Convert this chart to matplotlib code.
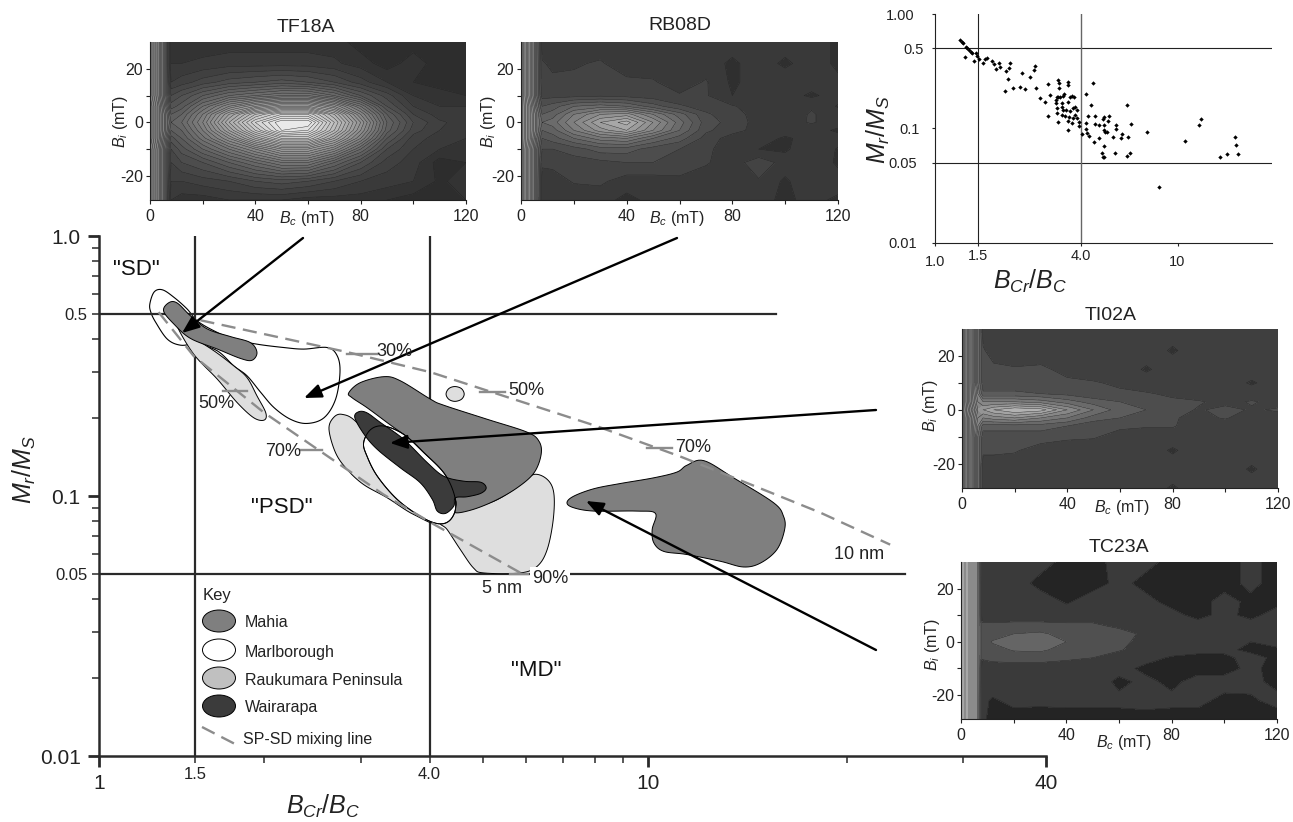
import numpy as np
import matplotlib
matplotlib.use('Agg')
import matplotlib.pyplot as plt
from matplotlib.colors import LinearSegmentedColormap
from matplotlib.patches import Ellipse

plt.rcParams['font.family'] = ['Liberation Sans', 'DejaVu Sans']
plt.rcParams['mathtext.fontset'] = 'custom'
plt.rcParams['mathtext.rm'] = 'Liberation Sans'
plt.rcParams['mathtext.it'] = 'Liberation Sans:italic'
plt.rcParams['mathtext.default'] = 'it'

W, H = 1293, 822

# FORC grids, contour level number at each (Bi, Bc)
forc_bc = [0, 3, 6, 8, 12, 20, 30, 40, 50, 60, 70, 80, 90, 100, 110, 120]
forc_bi = [30, 22, 15, 10, 6, 3, 0, -3, -6, -10, -15, -22, -29]

tf18a = [
    [20, 16, 10, 2, 1.5, 1.5, 1.5, 1.5, 1.5, 1.5, 1.5, .5, .5, .5, .4, .5],
    [20, 16, 10, 2, 2, 2.2, 2.5, 2.5, 2.5, 2.5, 2.2, 1.5, .5, 1.5, .5, .3],
    [20, 16, 10, 3, 3.5, 4.5, 5.5, 6, 6.5, 6, 5, 3.5, 2, 1, .5, .4],
    [20, 16, 10, 5, 6, 8, 10, 11, 12, 12, 10, 7, 4.5, 2, 1.5, 1],
    [21, 17, 11, 6.5, 7.5, 11, 15, 18, 20, 20, 17, 12, 6, 3, 2, 2],
    [21, 17, 12, 8, 9, 13, 19, 24, 27, 27, 22, 15, 8, 4, 2.5, 2.5],
    [21, 17, 12, 9, 10, 14, 21, 27, 31, 31, 24, 17, 9, 5, 3.2, 2.5],
    [21, 17, 12, 8, 9, 13, 19, 25, 30, 29, 23, 16, 8.5, 4.5, 3, 2],
    [21, 17, 11, 6.5, 8, 11.5, 16, 21, 25, 25, 20, 14, 7, 3.5, 2.5, 2],
    [20, 16, 10, 5, 6.5, 9, 12, 15, 18, 18, 15, 10, 5, 3, 2, 2],
    [20, 16, 10, 4, 5, 6, 8, 10, 12, 12, 9, 6, 3.5, 2.5, .5, 1],
    [20, 16, 10, 3, 3, 3.5, 4, 5, 5.5, 5, 4, 3, 2.5, 2, .8, 1.5],
    [20, 16, 10, 2, 1.5, 1.5, 2, 2, 2, 1.5, 1.5, 1.5, 1, .5, .5, 1],
]
rb08d = [
    [18, 12, 6, 1.5, 1.5, 1.5, 1.5, 1.5, 1.5, 1.5, 1.5, 1.5, 1.9, 1.5, 1.5, .8],
    [18, 12, 6, 2.1, 1.8, 1.9, 2.1, 1.5, 1.5, 1.5, 1.5, .8, 1.5, .8, 1.5, .8],
    [18, 12, 6, 2.2, 2.2, 2.2, 2.3, 2.2, 2.1, 1.5, 2.1, .8, 1.5, 1.6, 1.5, 1.2],
    [18, 12, 6, 2.6, 2.6, 2.6, 2.8, 2.6, 2.4, 2.1, 2.1, 1.0, 1.5, 1.5, .8, 1.5],
    [18, 13, 7, 4, 4.5, 6, 6.5, 6, 4.5, 3.2, 2.5, 2.1, 1.5, 1.5, 1.9, .9],
    [18, 13, 8, 5, 5.5, 8, 10, 10.5, 8, 5.5, 3.2, 2.3, 1.7, 1.5, 2.1, 1.5],
    [18, 13, 8, 6, 6.5, 9, 12, 13.5, 10, 6.5, 3.5, 2.6, 1.6, 1.6, 2.1, 1.5],
    [18, 13, 8, 5, 5.5, 8, 10.5, 12, 9, 6, 3.2, 2.4, 1.6, 1.6, 1.5, .8],
    [18, 13, 7, 4, 4.5, 6, 7.5, 8, 6, 4.5, 2.6, 1.5, 1.6, .8, 1.5, 1.5],
    [18, 12, 6, 3, 3, 3.5, 4.5, 4.5, 3.5, 3, 2.2, 1.5, 1.0, .8, 1.9, .9],
    [18, 12, 6, 2.2, 2.3, 2.5, 2.7, 3, 3, 2.5, 2.1, 1.5, 2.6, 1.6, 1.9, .8],
    [18, 12, 6, 1.5, 1.5, 2.1, 2.2, 1.5, 1.5, 1.8, 1.5, 1.5, 1.9, .8, 1.9, 1.5],
    [18, 12, 6, 1.4, 1.3, 1.3, 1.4, .7, 1.3, 1.2, 1.3, 1.5, 1.3, .8, 1.3, .8],
]
ti02a = [
    [18, 12, 5, 1.6, 1.4, 1.4, 1.4, 1.4, 1.4, 1.4, 1.4, 1.4, 1.4, 1.4, 1.4, 1.4],
    [18, 12, 5, 2.1, 1.6, 1.4, 1.4, 1.4, 1.4, 1.4, 1.4, .9, 1.4, 1.4, 1.4, 1.4],
    [18, 12, 5, 2.2, 2.2, 2.1, 2.2, 1.7, 1.4, 1.4, .9, 1.4, 1.4, 1.4, 1.4, 1.4],
    [18, 12, 5, 2.4, 2.4, 2.4, 2.3, 2.2, 2.1, 1.8, 1.4, 1.4, 1.4, 1.4, .9, 1.4],
    [18, 12, 6, 3.2, 3.2, 3.2, 3, 2.7, 2.3, 2.2, 2.1, 1.8, 1.4, 1.5, 1.4, 1.4],
    [18, 12, 7, 6, 6, 6, 5.5, 4.5, 3.5, 3, 2.6, 2.2, 2.1, 1.7, 2.1, 1.7],
    [18, 13, 8, 8, 9, 10, 9.5, 7, 5, 3.5, 3, 2.4, 1.9, 2.3, 1.9, 2.1],
    [18, 12, 7, 6, 6.5, 7, 6, 5, 3.5, 3, 2.3, 2.1, 1.7, 2.1, 1.4, 1.7],
    [18, 12, 6, 3.5, 3.5, 3.5, 3.5, 3, 2.3, 2.2, 2.1, 2.1, 1.4, 1.4, 1.4, 1.4],
    [18, 12, 5, 2.4, 2.4, 2.4, 2.4, 2.2, 2.1, 1.6, 1.4, 1.4, 1.4, 1.4, 1.4, 1.4],
    [18, 12, 5, 2.2, 2.2, 2.1, 1.6, 1.4, 1.4, 1.4, 1.4, .9, 1.4, 1.4, 1.4, 1.4],
    [18, 12, 5, 1.4, 1.4, 1.4, 1.4, 1.4, 1.4, 1.4, 1.4, 1.4, 1.4, 1.4, .9, 1.4],
    [18, 12, 5, 1.4, 1.4, 1.4, 1.4, 1.4, 1.4, 1.4, 1.4, .9, 1.4, 1.4, 1.4, 1.4],
]
tc23a = [
    [14, 12, 8, 1.2, 1.1, 1.5, 1.4, .7, .7, 1.3, 1.2, .8, .7, .7, 1.2, .7],
    [14, 12, 8, 1.5, 1.5, 1.5, .7, .8, .7, 1.2, .8, .8, .7, .7, 1.2, .7],
    [14, 12, 8, 1.5, 1.5, 1.5, 1.5, .9, 1.4, 1.3, 1.2, .8, .7, 1.3, .8, .8],
    [14, 12, 8, 1.6, 1.5, 1.5, 1.5, 1.5, 1.5, 1.3, 1.2, 1.2, .8, 1.2, .8, 1.3],
    [14, 12, 8, 2.2, 2.2, 2.3, 2.3, 2.2, 2.2, 1.8, 1.5, 1.5, 1.3, 1.3, 1.3, 1.6],
    [14, 12, 8, 2.4, 2.5, 3, 3.2, 2.6, 2.5, 2.4, 1.8, 1.5, 1.3, 1.4, 1.3, 2],
    [14, 12, 8, 2.4, 3.1, 3.8, 3.8, 3, 2.6, 2.4, 1.5, 1.9, 1.5, 1.3, 1, 1.2],
    [14, 12, 8, 2.4, 2.6, 3.1, 3.2, 2.6, 2.4, 2.1, 1.5, 1.4, 1.3, 1.2, .8, .9],
    [14, 12, 8, 2.1, 2.3, 2.4, 2.4, 2.2, 2, 1.5, 1.3, .9, .7, .8, 1.3, .8],
    [14, 12, 8, 1.5, 1.5, 1.5, 1.5, 1.4, 1.4, 1.3, .8, .9, .7, .7, 1.2, .7],
    [14, 12, 8, 1.5, 1.5, 1.5, 1.5, 1.5, 1.5, .8, 1.2, .8, 1.3, 1.3, 1.2, .8],
    [14, 12, 8, 1.2, .9, 1.2, 1.2, 1.2, 1.2, 1.2, 1.3, 1.2, 1.2, .8, .9, 1.2],
    [14, 12, 8, 1.2, .7, .7, .6, .7, .7, .7, .7, .7, .7, .6, .7, .7],
]

# scatter in the small plot, log10 of Bcr/Bc and of Mr/Ms
scatter_logx = [
    .103, .110, .117, .128, .133, .142, .147, .151, .169, .175, .124, .161, .183, .199, .208, .213,
    .235, .243, .250, .265, .267, .293, .305, .309, .302, .289, .323, .349, .370, .360, .390, .408,
    .414, .415, .432, .455, .466, .476, .466, .499, .502, .509, .498, .502, .502, .507, .509, .510,
    .510, .550, .547, .515, .526, .532, .557, .564, .573, .550, .522, .522, .529, .540, .557, .568,
    .577, .584, .522, .536, .551, .550, .564, .568, .577, .587, .592, .594, .605, .547, .624, .652,
    .642, .632, .621, .621, .625, .636, .656, .661, .660, .678, .678, .697, .694, .697, .697, .701,
    .711, .718, .712, .746, .746, .734, .766, .773, .796, .792, .808, .874, .698, .690, .691, .697,
    .742, .793, .806, .922, 1.031, 1.089, 1.096, 1.175, 1.204, 1.251, 1.243, 1.237,
]
scatter_logy = [
    -.227, -.242, -.256, -.285, -.300, -.314, -.329, -.343, -.338, -.367, -.373, -.413, -.396, -.431, -.396, -.387,
    -.408, -.437, -.478, -.431, -.460, -.495, -.474, -.431, -.565, -.670, -.646, -.640, -.652, -.518, -.553, -.489,
    -.451, -.643, -.734, -.771, -.611, -.707, -.888, -.751, -.722, -.722, -.780, -.824, -.867, -.940, -.576, -.605,
    -.646, -.591, -.620, -.722, -.716, -.702, -.728, -.716, -.722, -.766, -.780, -.809, -.838, -.838, -.844, -.824,
    -.809, -.838, -.882, -.891, -.897, -.932, -.949, -.911, -.882, -.911, -.940, -.978, -1.048, -1.010, -.696, -.605,
    -.792, -.894, -.955, -1.001, -1.036, -1.065, -1.115, -.894, -.961, -.969, -1.083, -.897, -.920, -.969, -1.013, -1.028,
    -1.028, -.894, -.937, -.972, -1.004, -1.077, -1.083, -1.051, -1.071, -.798, -.958, -1.033, -1.153, -1.217, -1.246, -1.252,
    -1.217, -1.237, -1.217, -1.514, -1.112, -.969, -.914, -1.249, -1.226, -1.226, -1.144, -1.077,
]

# region outlines on the main plot, in axis decades (x, y)
marlborough_a = [(.093, -.262), (.101, -.215), (.116, -.207), (.137, -.236), (.161, -.281), (.179, -.326),
                 (.210, -.365), (.246, -.397), (.288, -.416), (.337, -.429), (.373, -.435), (.416, -.429),
                 (.434, -.461), (.439, -.525), (.431, -.628), (.410, -.699), (.379, -.721), (.349, -.705),
                 (.319, -.660), (.295, -.602), (.270, -.538), (.246, -.500), (.216, -.442), (.179, -.416),
                 (.149, -.420), (.125, -.397), (.104, -.333), (.095, -.294)]
marlborough_b = [(.482, -.795), (.495, -.744), (.519, -.731), (.555, -.763), (.592, -.834), (.628, -.911),
                 (.646, -.988), (.649, -1.052), (.637, -1.097), (.616, -1.106), (.585, -1.078), (.543, -1.013),
                 (.507, -.924), (.488, -.846)]
raukumara_a = [(.143, -.346), (.167, -.384), (.210, -.442), (.246, -.500), (.270, -.545), (.288, -.615),
               (.304, -.680), (.301, -.708), (.282, -.699), (.252, -.641), (.216, -.551), (.173, -.455)]
raukumara_b = [(.419, -.744), (.427, -.699), (.443, -.686), (.470, -.718), (.525, -.859), (.610, -1.091),
               (.573, -1.071), (.525, -1.007), (.482, -.956), (.452, -.898), (.431, -.834)]
raukumara_c = [(.792, -.917), (.816, -.936), (.828, -.988), (.827, -1.091), (.816, -1.206), (.798, -1.270),
               (.767, -1.296), (.701, -1.296), (.682, -1.277), (.658, -1.206), (.634, -1.129), (.622, -1.103),
               (.646, -1.065), (.719, -1.020), (.767, -.956)]
raukumara_d = [(.632, -.608), (.637, -.587), (.648, -.579), (.660, -.587), (.665, -.608), (.660, -.628),
               (.648, -.636), (.637, -.628)]
mahia_a = [(.118, -.288), (.128, -.256), (.143, -.258), (.167, -.307), (.198, -.358), (.240, -.387),
           (.276, -.410), (.288, -.448), (.279, -.478), (.258, -.471), (.216, -.435), (.167, -.394), (.137, -.339)]
mahia_b = [(.455, -.603), (.476, -.564), (.519, -.541), (.549, -.557), (.604, -.628), (.628, -.651),
           (.707, -.705), (.779, -.754), (.801, -.789), (.805, -.840), (.792, -.911), (.761, -.969),
           (.719, -1.020), (.676, -1.055), (.646, -1.062), (.649, -1.013), (.610, -.885), (.573, -.795),
           (.525, -.718), (.488, -.660), (.461, -.622)]
mahia_c = [(.852, -1.026), (.864, -1.001), (.901, -.972), (.949, -.952), (1.010, -.930), (1.052, -.908),
           (1.070, -.882), (1.101, -.864), (1.155, -.930), (1.228, -1.026), (1.246, -1.078), (1.248, -1.129),
           (1.234, -1.206), (1.204, -1.258), (1.173, -1.273), (1.131, -1.251), (1.070, -1.225), (1.028, -1.213),
           (1.010, -1.180), (1.007, -1.129), (1.013, -1.067), (.979, -1.058), (.901, -1.058), (.864, -1.045)]
wairarapa = [(.466, -.699), (.473, -.676), (.488, -.680), (.513, -.718), (.555, -.782), (.598, -.872),
             (.628, -.924), (.664, -.943), (.695, -.947), (.705, -.969), (.695, -.990), (.670, -1.003),
             (.649, -1.007), (.646, -1.039), (.631, -1.067), (.616, -1.058), (.607, -1.013), (.585, -.949),
             (.549, -.892), (.507, -.821), (.483, -.763)]

# SP-SD mixing lines
mix_5nm = [(.109, -.293), (.173, -.462), (.300, -.678), (.380, -.794), (.518, -.994), (.604, -1.102), (.767, -1.295)]
mix_10nm = [(.185, -.324), (.453, -.447), (.604, -.524), (.907, -.732), (1.058, -.848), (1.155, -.929),
            (1.313, -1.064), (1.440, -1.187)]

# boxes of the plots, left/top/right/bottom in figure pixels
main_box = (98.7, 236, 1046, 756)
scatter_box = (935, 14, 1272, 243)
forc_panels = [
    ('TF18A', tf18a, 32, 15, '#2a2a2a', (150, 42, 466, 200), (306, 27), (307, 218), (120, 122)),
    ('RB08D', rb08d, 20, 11, '#2a2a2a', (521, 42, 838, 200), (680, 26), (677, 218), (488, 122)),
    ('TI02A', ti02a, 14, 7, '#2a2a2a', (962, 329, 1278, 488), (1111, 315), (1122, 507), (930, 406)),
    ('TC23A', tc23a, 10, 7, '#1a1a1a', (961, 562, 1277, 719), (1119, 547), (1124, 742), (932, 645)),
]


def add_box(fig, box):
    l, t, r, b = box
    return fig.add_axes([l / W, 1 - b / H, (r - l) / W, (b - t) / H])


def axis_fwd(x):
    # the printed axis stretches above 10: 550 px/decade below, 661 px/decade above
    x = np.maximum(x, 1e-6)
    return np.where(x <= 10, np.log10(x), 1 + np.log10(x / 10) * 661 / 550)


def axis_inv(v):
    return np.where(v <= 1, 10.0 ** v, 10 * 10.0 ** ((v - 1) * 550 / 661))


def outline(points, n=8):
    # closed Catmull-Rom through the traced points
    p = np.array(points)
    out = []
    for i in range(len(p)):
        p0, p1, p2, p3 = p[i - 1], p[i], p[(i + 1) % len(p)], p[(i + 2) % len(p)]
        for t in np.linspace(0, 1, n, endpoint=False):
            out.append(0.5 * (2 * p1 + (p2 - p0) * t + (2 * p0 - 5 * p1 + 4 * p2 - p3) * t ** 2
                              + (3 * p1 - p0 - 3 * p2 + p3) * t ** 3))
    out = np.array(out)
    return axis_inv(out[:, 0]), 10.0 ** out[:, 1]


fig = plt.figure(figsize=(W / 100, H / 100), dpi=100)

# FORC panels
for name, grid, zmax, strip_cap, low, box, title_at, xlabel_at, ylabel_at in forc_panels:
    ax = add_box(fig, box)
    z = np.array(grid, dtype=float)
    forc_cmap = LinearSegmentedColormap.from_list('forc', [low, '#f2f2f2'])
    # the strip at low Bc is very dense: lines keep all levels, the fill stays mid grey
    fill = z.copy()
    fill[:, :3] = np.minimum(fill[:, :3], strip_cap)
    ax.contourf(forc_bc, forc_bi, fill, levels=np.arange(0, fill.max() + 1, 1), cmap=forc_cmap, vmin=0, vmax=zmax)
    ax.contour(forc_bc, forc_bi, z, levels=np.arange(0, z.max() + 1, 1), colors='#222222', linewidths=0.3)
    ax.set_xlim(0, 120)
    ax.set_ylim(-29, 30)
    ax.set_xticks([0, 20, 40, 60, 80, 100, 120], ['0', '', '40', '', '80', '', '120'])
    ax.set_yticks([-20, -10, 0, 10, 20], ['-20', '', '0', '', '20'])
    ax.tick_params(length=3, width=0.8, labelsize=11.5, pad=2, color='#222222', labelcolor='#222222')
    ax.tick_params(axis='x', pad=3.5)
    ax.spines['top'].set_visible(False)
    ax.spines['right'].set_visible(False)
    for s in ('left', 'bottom'):
        ax.spines[s].set_linewidth(0.8)
        ax.spines[s].set_color('#222222')

# scatter panel
ax = add_box(fig, scatter_box)
ax.set_xscale('log')
ax.set_yscale('log')
ax.set_xlim(1, 10 ** ((1272 - 935) / 242.5))
ax.set_ylim(0.01, 1)
ax.axhline(0.5, color='#222222', lw=0.8, zorder=1)
ax.axhline(0.05, color='#222222', lw=0.8, zorder=1)
ax.axvline(1.5, color='#222222', lw=0.8, zorder=1)
ax.axvline(4.0, color='#666666', lw=1.0, zorder=1)
ax.scatter(10.0 ** np.array(scatter_logx), 10.0 ** np.array(scatter_logy), marker='D', s=5, color='black',
           linewidths=0, zorder=3)
ax.set_xticks([1, 1.5, 4, 10], ['1.0', '1.5', '4.0', '10'])
ax.set_xticks([], minor=True)
ax.set_yticks([1, .5, .1, .05, .01], ['1.00', '0.5', '0.1', '0.05', '0.01'])
ax.set_yticks([], minor=True)
ax.tick_params(length=2, width=0.8, labelsize=10.5, color='#222222', labelcolor='#222222')
for t, pad in zip(ax.xaxis.get_major_ticks(), [7, 2, 2, 7]):
    t.set_pad(pad)
for t, pad in zip(ax.yaxis.get_major_ticks(), [13, 6, 9, 11, 11]):
    t.set_pad(pad)
ax.spines['top'].set_visible(False)
ax.spines['right'].set_visible(False)
for s in ('left', 'bottom'):
    ax.spines[s].set_linewidth(0.8)
    ax.spines[s].set_color('#222222')

# main plot
ax = add_box(fig, main_box)
ax.set_xscale('function', functions=(axis_fwd, axis_inv))
ax.set_yscale('log')
ax.set_xlim(1, 40)
ax.set_ylim(0.01, 1)
ax.patch.set_alpha(0)

line_c = '#2a2a2a'
fx, fy = outline(marlborough_a)
ax.fill(fx, fy, fc='white', ec='black', lw=0.8, zorder=1)
ax.plot([1, 15.6], [0.5, 0.5], color=line_c, lw=1.6, zorder=2)
ax.plot([1, 24.5], [0.05, 0.05], color=line_c, lw=1.6, zorder=2)
ax.plot([1.5, 1.5], [0.01, 1], color=line_c, lw=1.6, zorder=2)
ax.plot([4, 4], [0.01, 1], color=line_c, lw=1.6, zorder=2)

for shape, colour, z in [(raukumara_a, '#dedede', 3), (raukumara_b, '#dedede', 3), (raukumara_c, '#dedede', 3),
                         (raukumara_d, '#dedede', 3), (mahia_a, '#7f7f7f', 4), (mahia_b, '#7f7f7f', 4),
                         (mahia_c, '#7f7f7f', 4), (marlborough_b, 'white', 5), (wairarapa, '#3b3b3b', 6)]:
    fx, fy = outline(shape)
    ax.fill(fx, fy, fc=colour, ec='black', lw=0.7, zorder=z)
fx, fy = outline(marlborough_b)
ax.fill(fx, fy, fc='none', ec='black', lw=0.7, zorder=7)

for mix in (mix_5nm, mix_10nm):
    m = np.array(mix)
    ax.plot(axis_inv(m[:, 0]), 10.0 ** m[:, 1], color='#8c8c8c', lw=1.7, ls=(0, (6, 3.2)), zorder=8)

ax.set_xticks([1, 10, 40], ['1', '10', '40'])
ax.set_xticks([1.5, 2, 3, 4, 5, 6, 7, 8, 9, 20, 30], ['1.5', '', '', '4.0', '', '', '', '', '', '', ''], minor=True)
ax.set_yticks([1, .1, .01], ['1.0', '0.1', '0.01'])
ax.set_yticks([.9, .8, .7, .6, .5, .4, .3, .2, .09, .08, .07, .06, .05, .04, .03, .02],
              ['', '', '', '', '0.5', '', '', '', '', '', '', '', '0.05', '', '', ''], minor=True)
ax.tick_params(which='major', length=8, width=2, labelsize=15, pad=5, color=line_c, labelcolor='#222222')
ax.tick_params(which='minor', length=5, width=1.1, labelsize=12, pad=3, color=line_c, labelcolor='#222222')
ax.spines['top'].set_visible(False)
ax.spines['right'].set_visible(False)
for s in ('left', 'bottom'):
    ax.spines[s].set_linewidth(1.8)
    ax.spines[s].set_color(line_c)

# overlay in figure pixels for arrows, key and loose labels
ov = fig.add_axes([0, 0, 1, 1], zorder=20)
ov.set_xlim(0, W)
ov.set_ylim(H, 0)
ov.axis('off')
ov.patch.set_alpha(0)

for name, grid, zmax, strip_cap, low, box, title_at, xlabel_at, ylabel_at in forc_panels:
    ov.text(*title_at, name, fontsize=14, ha='center', va='center', color='#222222')
    ov.text(*xlabel_at, r'$B_c$ (mT)', fontsize=11.5, ha='center', va='center', color='#222222')
    ov.text(*ylabel_at, r'$B_i$ (mT)', fontsize=11.5, ha='center', va='center', rotation=90, color='#222222')

arrows = [((303, 238), (182, 333)), ((677, 238), (304, 398)), ((876, 410), (390, 443)), ((876, 650), (586, 501))]
for start, tip in arrows:
    ov.annotate('', xy=tip, xytext=start,
                arrowprops=dict(arrowstyle='-|>,head_length=0.8,head_width=0.32', mutation_scale=13,
                                color='black', lw=1.7, shrinkA=0, shrinkB=0))

# short grey marks and percent labels on the mixing lines
for x0, x1, y in [(347, 377, 354), (223, 247, 391), (300, 322, 450), (480, 505, 392), (647, 672, 448), (510, 528, 574)]:
    ov.plot([x0, x1], [y, y], color='#8c8c8c', lw=1.7)
for txt, x, y in [('30%', 394, 351), ('50%', 216, 403), ('70%', 283, 451), ('50%', 526, 390), ('70%', 693, 447)]:
    ov.text(x, y, txt, fontsize=13, ha='center', va='center', color='#222222')
ov.text(550, 578, '90%', fontsize=13, ha='center', va='center', color='#222222',
        bbox=dict(fc='white', ec='none', pad=1.5))
ov.text(502, 588, '5 nm', fontsize=13, ha='center', va='center', color='#222222')
ov.text(859, 554, '10 nm', fontsize=13, ha='center', va='center', color='#222222')

ov.text(136, 269, '"SD"', fontsize=16, ha='center', va='center', color='#111111')
ov.text(282, 507, '"PSD"', fontsize=16, ha='center', va='center', color='#111111')
ov.text(536, 670, '"MD"', fontsize=16, ha='center', va='center', color='#111111')

# key
ov.text(203, 595, 'Key', fontsize=12, ha='left', va='center', color='#222222')
key_items = [('Mahia', '#7f7f7f', 621, 622), ('Marlborough', 'white', 650, 652),
             ('Raukumara Peninsula', '#c0c0c0', 678, 680), ('Wairarapa', '#3b3b3b', 706, 707)]
for label, colour, y_mark, y_text in key_items:
    ov.add_patch(Ellipse((219, y_mark), 33, 22, fc=colour, ec='black', lw=0.7))
    ov.text(245, y_text, label, fontsize=11.5, ha='left', va='center', color='#222222')
ov.plot([202, 235], [727, 744], color='#8c8c8c', lw=1.7, ls=(0, (6, 3.2)))
ov.text(243, 739, 'SP-SD mixing line', fontsize=11.5, ha='left', va='center', color='#222222')

# axis titles
ov.text(323, 806, r'$B_{Cr}/B_C$', fontsize=18, ha='center', va='center', color='#222222')
ov.text(24, 470, r'$M_r/M_S$', fontsize=18, ha='center', va='center', rotation=90, color='#222222')
ov.text(1030, 281, r'$B_{Cr}/B_C$', fontsize=18, ha='center', va='center', color='#222222')
ov.text(878, 130, r'$M_r/M_S$', fontsize=18, ha='center', va='center', rotation=90, color='#222222')

fig.savefig('out.png', dpi=100, facecolor='white')
